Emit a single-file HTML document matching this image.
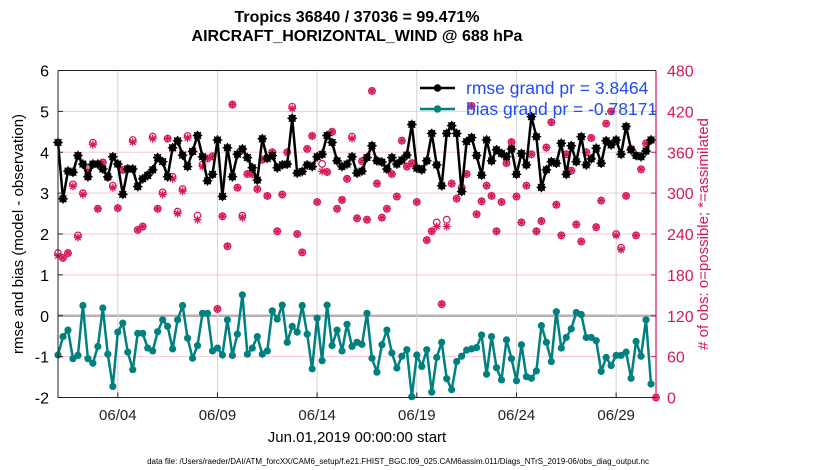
<!DOCTYPE html>
<html><head><meta charset="utf-8"><style>
body{margin:0;background:#fff;}
svg{display:block;font-family:"Liberation Sans",sans-serif;}
</style></head><body>
<svg id="chart" width="830" height="470" viewBox="0 0 830 470" xmlns="http://www.w3.org/2000/svg">
<text x="357" y="22" text-anchor="middle" font-size="16" font-weight="bold">Tropics 36840 / 37036 = 99.471%</text>
<text x="357" y="41" text-anchor="middle" font-size="16" font-weight="bold">AIRCRAFT_HORIZONTAL_WIND @ 688 hPa</text>
<g id="grid"></g><g id="marks"></g><g id="axes"></g>
<text transform="translate(23,234) rotate(-90)" text-anchor="middle" font-size="15">rmse and bias (model - observation)</text>
<text transform="translate(708,234) rotate(-90)" text-anchor="middle" font-size="15" fill="#d6185a"># of obs: o=possible; *=assimilated</text>
<text x="357" y="442" text-anchor="middle" font-size="15">Jun.01,2019 00:00:00 start</text>
<text x="398" y="464" text-anchor="middle" font-size="8">data file: /Users/raeder/DAI/ATM_forcXX/CAM6_setup/f.e21.FHIST_BGC.f09_025.CAM6assim.011/Diags_NTrS_2019-06/obs_diag_output.nc</text>
<g id="legend"></g>
</svg>
<script>
const rmse=[4.24,2.86,3.54,3.51,3.92,3.71,3.40,3.71,3.71,3.59,3.40,3.89,3.71,2.97,3.59,3.59,3.16,3.35,3.43,3.57,3.87,3.77,3.40,4.11,4.28,3.93,3.65,4.02,4.41,3.89,3.30,3.46,4.30,2.92,4.11,3.40,3.95,4.08,3.87,3.62,3.32,4.33,
3.85,3.92,3.62,3.69,3.71,4.83,3.49,3.53,3.69,3.65,3.89,3.95,4.41,4.24,3.79,3.65,3.71,3.89,3.49,3.54,3.87,4.16,3.79,3.76,3.59,3.87,3.71,3.81,3.93,4.68,3.61,3.57,3.79,4.46,3.69,3.18,4.46,4.65,4.46,3.04,
4.26,4.36,3.92,3.44,4.30,3.79,4.06,3.97,3.89,4.08,3.46,3.97,3.69,4.87,4.38,3.14,3.57,3.77,3.73,4.22,3.46,4.16,3.77,4.38,3.69,3.84,4.10,3.73,4.28,4.18,4.30,3.95,4.63,4.06,3.92,3.89,4.03,4.30];
const bias=[-0.96,-0.51,-0.35,-1.05,-0.97,0.25,-1.05,-1.16,-0.75,0.19,-0.94,-1.73,-0.40,-0.18,-0.89,-1.32,-0.43,-0.43,-0.79,-0.86,-0.39,-0.10,-0.26,-0.81,-0.10,0.25,-0.55,-1.04,-0.73,0.06,0.06,-0.86,-0.79,-0.96,-0.10,-0.97,-0.45,0.51,-0.94,-0.79,-0.51,-0.94,
-0.86,0.12,-0.08,0.26,-0.65,-0.26,-0.40,0.25,-0.45,-1.30,-0.06,-1.10,0.26,-0.73,-0.35,-0.86,-0.21,-0.75,-0.65,-0.70,0.06,-1.04,-1.38,-0.71,-0.35,-0.91,-1.28,-0.99,-0.83,-1.98,-0.96,-1.24,-0.83,-1.87,-1.02,-0.65,-1.54,-1.81,-1.12,-0.99,
-0.84,-0.81,-0.78,-0.47,-1.43,-0.51,-1.27,-1.57,-0.59,-1.05,-1.59,-0.71,-1.49,-1.53,-1.35,-0.24,-0.65,-1.12,0.10,-0.79,-0.53,-0.32,0.08,0.03,-0.53,-0.53,-0.61,-1.36,-1.02,-1.22,-0.97,-0.97,-0.89,-1.53,-0.63,-0.99,-0.10,-1.67];
const nAssim=[208,205,212,310,235,298,333,371,277,345,323,308,278,334,336,375,246,251,327,380,277,298,380,321,270,303,381,361,261,339,351,354,130,266,222,430,308,264,328,328,306,349,
296,360,244,298,360,424,240,213,365,384,287,332,331,390,277,290,321,380,263,347,261,450,314,264,277,328,295,377,339,344,287,335,231,244,251,137,251,314,292,308,
328,428,269,288,311,296,244,287,344,375,295,257,311,357,244,259,367,404,283,238,357,333,254,229,360,381,250,289,402,420,238,217,296,365,238,335,373,378,0];
const nPoss=[212,205,212,313,238,300,336,374,277,345,323,311,278,334,336,378,246,251,327,383,277,301,380,324,273,306,384,361,267,342,351,354,130,266,222,430,308,267,328,328,306,349,
296,360,244,298,360,427,240,213,365,384,287,343,331,390,277,290,321,383,263,347,261,450,314,264,277,328,295,377,339,344,287,335,231,244,257,137,261,314,292,308,
328,428,269,288,311,296,244,287,344,375,295,257,311,357,244,259,367,404,283,238,357,333,254,229,360,381,250,289,402,420,240,220,296,365,238,335,373,378,0];
const dateTicks=[3,8,13,18,23,28];
const dateLabels=["06/04","06/09","06/14","06/19","06/24","06/29"];
const leftTicks=[-2,-1,0,1,2,3,4,5,6];
const rightTicks=[0,60,120,180,240,300,360,420,480];
const legendLabels=["rmse grand pr = 3.8464","bias grand pr = -0.78171"];

const NS="http://www.w3.org/2000/svg";
const X0=58,X1=656,Y0=70.5,Y1=397.5,DAYS=30,STEP=0.25;
const xs=d=>X0+(X1-X0)*d/DAYS;
const yL=v=>Y1-(v+2)/8*(Y1-Y0);
const yR=c=>Y1-c/480*(Y1-Y0);
const MAG="#d6185a",TEAL="#00807f";
function el(t,a,p){const e=document.createElementNS(NS,t);for(const k in a)e.setAttribute(k,a[k]);(p||document.getElementById('marks')).appendChild(e);return e;}
const grid=document.getElementById('grid'),axes=document.getElementById('axes'),marks=document.getElementById('marks');

leftTicks.forEach(v=>{
  const g=el('line',{x1:X0,x2:X1,y1:yL(v),y2:yL(v),stroke:v===0?'#b8b0b4':'#f5c9d8','stroke-width':v===0?2.5:1},grid);
  
  
  const t=el('text',{x:X0-9,y:yL(v)+6,'text-anchor':'end','font-size':16},axes);t.textContent=v;
  
  
  el('line',{x1:X0,x2:X0+5,y1:yL(v),y2:yL(v),stroke:'#222'},axes);
});
rightTicks.forEach(c=>{
  el('line',{x1:X1-5,x2:X1,y1:yR(c),y2:yR(c),stroke:MAG},axes);
  const t=el('text',{x:X1+11,y:yR(c)+6,'font-size':16,fill:MAG},axes);t.textContent=c;
  
  
});
dateTicks.forEach((d,i)=>{
  const g=el('line',{x1:xs(d),x2:xs(d),y1:Y0,y2:Y1,stroke:'#d4d4d4'},grid);
  
  
  el('line',{x1:xs(d),x2:xs(d),y1:Y1,y2:Y1-5,stroke:'#222'},axes);
  const t=el('text',{x:xs(d),y:420,'text-anchor':'middle','font-size':15,fill:'#222'},axes);t.textContent=dateLabels[i];
  
  
});
const fr=el('path',{d:`M${X0},${Y0}H${X1}M${X0},${Y0}V${Y1}H${X1}`,fill:'none',stroke:'#222','stroke-width':1},axes);


const ra=el('line',{x1:X1,x2:X1,y1:Y0,y2:Y1,stroke:MAG,'stroke-width':1.2},axes);



function star(cx,cy,r,col,parent){
  const g=el('g',{stroke:col,'stroke-width':1.3},parent);
  for(let k=0;k<4;k++){const a=k*Math.PI/4;el('line',{x1:cx-r*Math.cos(a),y1:cy-r*Math.sin(a),x2:cx+r*Math.cos(a),y2:cy+r*Math.sin(a)},g);}
  return g;
}
nPoss.forEach((c,i)=>{
  const m=el('circle',{cx:xs(i*STEP),cy:yR(c),r:3.3,fill:'none',stroke:MAG,'stroke-width':1.2});
  
  
});
nAssim.forEach((c,i)=>{
  const m=star(xs(i*STEP),yR(c),4,MAG);
  
  
});
function series(vals,col,name,isStar){
  const pts=vals.map((v,i)=>xs(i*STEP).toFixed(1)+','+yL(v).toFixed(1)).join(' ');
  const l=el('polyline',{points:pts,fill:'none',stroke:col,'stroke-width':2.5,'stroke-linejoin':'round'});
  
  
  vals.forEach((v,i)=>{
    const c=el('circle',{cx:xs(i*STEP),cy:yL(v),r:isStar?3.8:3.6,fill:col});
    
    
    if(isStar)star(xs(i*STEP),yL(v),4.8,col);
  });
}
series(rmse,'#000','rmse',true);
series(bias,TEAL,'bias',false);

const lg=document.getElementById('legend');
[['#000',88],[TEAL,109]].forEach((s,i)=>{
  el('line',{x1:420,x2:455,y1:s[1],y2:s[1],stroke:s[0],'stroke-width':2.5},lg);
  el('circle',{cx:437.5,cy:s[1],r:3.8,fill:s[0]},lg);
  const t=el('text',{x:466,y:s[1]+6,'font-size':17.5,fill:'#1f4dfa'},lg);t.textContent=legendLabels[i];
  
  
});
</script>
</body></html>
